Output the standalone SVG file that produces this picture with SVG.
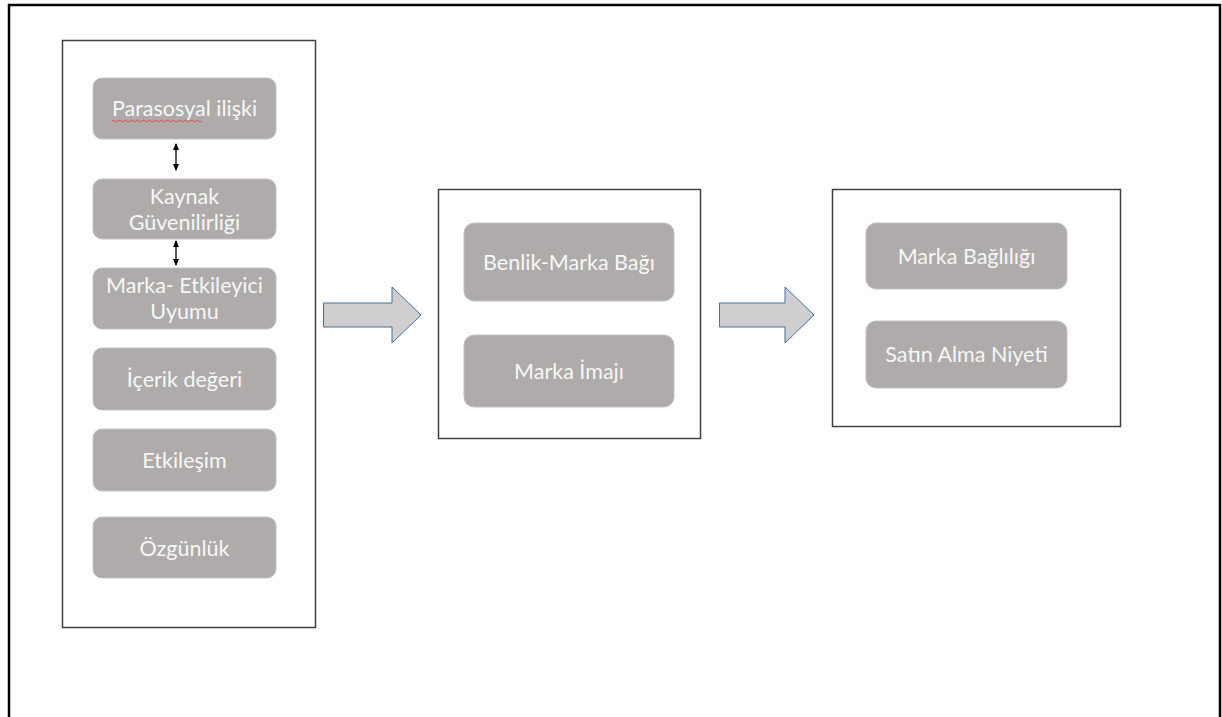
<svg xmlns="http://www.w3.org/2000/svg" width="1222" height="717" viewBox="0 0 1222 717">
<defs>
<style>
.panel{fill:#fff;stroke:#404040;stroke-width:1.5}
.box{fill:#AEABAA;stroke:#C4C2C1;stroke-width:1}
.lbl{font-family:Lato,"Open Sans",sans-serif;font-size:21.5px;fill:#F7F7F7;text-anchor:middle}
.big{fill:#D0CECE;stroke:#41719C;stroke-width:1}
.dbl{stroke:#000;stroke-width:1.3;fill:none}
</style>
<marker id="ah" markerWidth="8" markerHeight="8" refX="6" refY="4" orient="auto-start-reverse" markerUnits="userSpaceOnUse">
<path d="M0,1 L7,4 L0,7 Z" fill="#000"/>
</marker>
</defs>
<rect width="1222" height="717" fill="#fff"/>
<path d="M9,717 V5 H1220 V717" fill="none" stroke="#000" stroke-width="2.5"/>

<g id="panel-left">
<rect class="panel" x="62.5" y="40.5" width="253" height="587"/>
</g>
<g id="n-parasosyal">
<rect class="box" x="93" y="78" width="183" height="61" rx="9"/>
<text class="lbl" x="184.5" y="116">Parasosyal ilişki</text>
<path d="M112,121 q1.5,-1.5 3,0 t3,0 t3,0 t3,0 t3,0 t3,0 t3,0 t3,0 t3,0 t3,0 t3,0 t3,0 t3,0 t3,0 t3,0 t3,0 t3,0 t3,0 t3,0 t3,0 t3,0 t3,0 t3,0 t3,0 t3,0 t3,0 t3,0 t3,0 t3,0 t3,0" fill="none" stroke="#E04040" stroke-width="0.9"/>
</g>
<g id="n-kaynak">
<rect class="box" x="93" y="179" width="183" height="60" rx="9"/>
<text class="lbl" x="184.5" y="204">Kaynak</text>
<text class="lbl" x="184.5" y="230">Güvenilirliği</text>
</g>
<g id="n-uyum">
<rect class="box" x="93" y="268" width="183" height="61" rx="9"/>
<text class="lbl" x="184.5" y="293">Marka- Etkileyici</text>
<text class="lbl" x="184.5" y="319">Uyumu</text>
</g>
<g id="n-icerik">
<rect class="box" x="93" y="348" width="183" height="62" rx="9"/>
<text class="lbl" x="184.5" y="387">İçerik değeri</text>
</g>
<g id="n-etkilesim">
<rect class="box" x="93" y="429" width="183" height="62" rx="9"/>
<text class="lbl" x="184.5" y="468">Etkileşim</text>
</g>
<g id="n-ozgunluk">
<rect class="box" x="93" y="517" width="183" height="61" rx="9"/>
<text class="lbl" x="184.5" y="556">Özgünlük</text>
</g>

<g id="panel-mid">
<rect class="panel" x="438.5" y="189.5" width="262" height="249"/>
</g>
<g id="n-benlik">
<rect class="box" x="464" y="223" width="210" height="78" rx="10"/>
<text class="lbl" x="569" y="270">Benlik-Marka Bağı</text>
</g>
<g id="n-imaj">
<rect class="box" x="464" y="335" width="210" height="72" rx="10"/>
<text class="lbl" x="569" y="379">Marka İmajı</text>
</g>

<g id="panel-right">
<rect class="panel" x="832.5" y="189.5" width="288" height="237"/>
</g>
<g id="n-baglilik">
<rect class="box" x="866" y="223" width="201" height="66" rx="10"/>
<text class="lbl" x="966.5" y="264">Marka Bağlılığı</text>
</g>
<g id="n-niyet">
<rect class="box" x="866" y="321" width="201" height="67" rx="10"/>
<text class="lbl" x="966.5" y="362">Satın Alma Niyeti</text>
</g>

<g id="connectors">
<line class="dbl" x1="176" y1="144" x2="176" y2="170" marker-start="url(#ah)" marker-end="url(#ah)"/>
<line class="dbl" x1="176" y1="241" x2="176" y2="265" marker-start="url(#ah)" marker-end="url(#ah)"/>
<path class="big" d="M323.5,303 H392 V287 L421,315 L392,343 V327 H323.5 Z"/>
<path class="big" d="M719.5,303 H785 V287 L814,315 L785,343 V327 H719.5 Z"/>
</g>
</svg>
